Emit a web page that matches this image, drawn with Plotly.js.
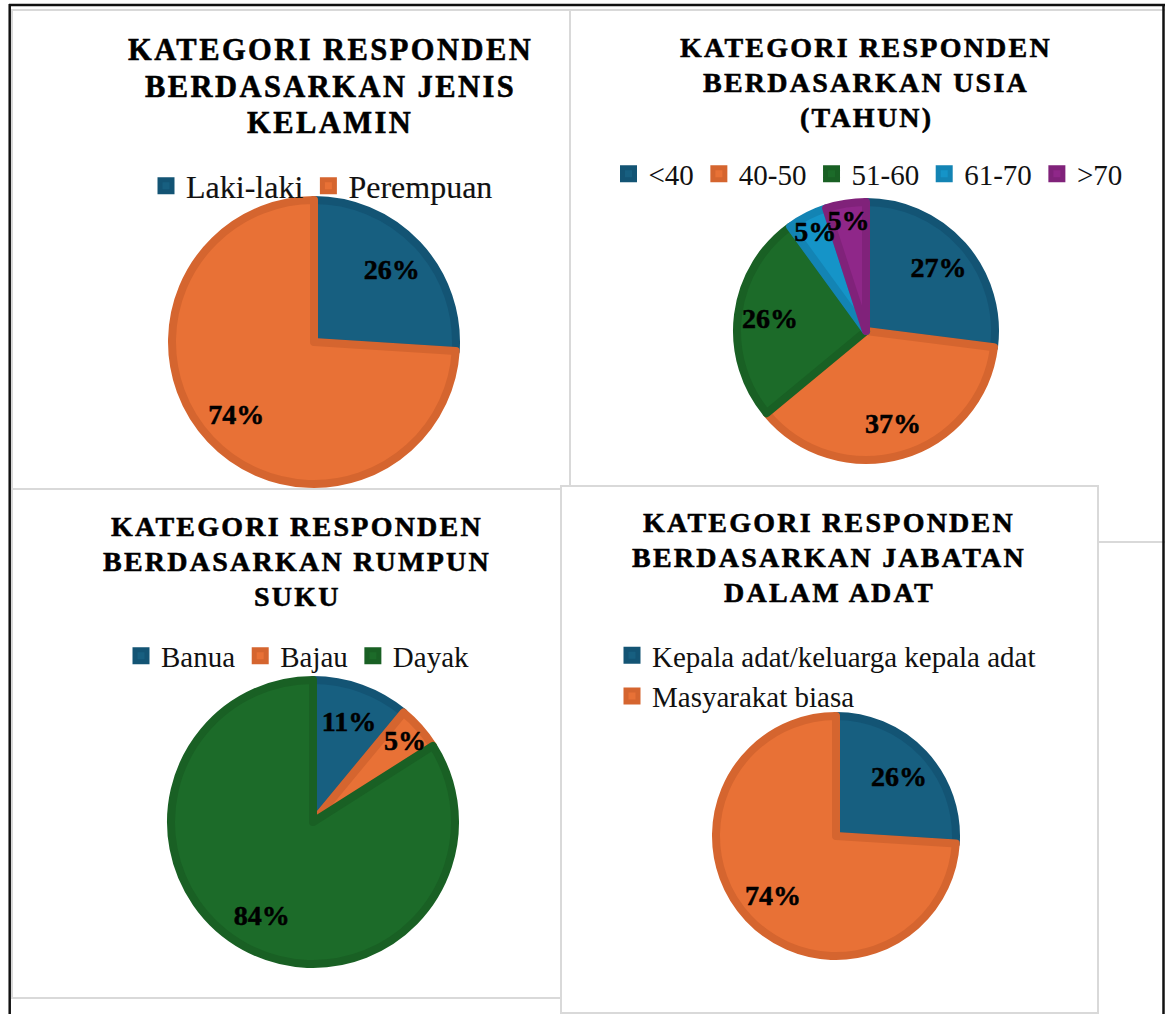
<!DOCTYPE html>
<html>
<head>
<meta charset="utf-8">
<script src="https://cdn.plot.ly/plotly-3.0.1.min.js"></script>
<style>
html, body { margin: 0; padding: 0; background: #ffffff; }
#chart { width: 1165px; height: 1014px; }
.annotation-text { letter-spacing: 0.08em; stroke: #000000; stroke-width: 0.55px; }
.slicetext { stroke: #000000; stroke-width: 0.5px; }
.legendtext { stroke: #111111; stroke-width: 0.15px; }
.slice path.surface { stroke-linejoin: round; }
</style>
</head>
<body>
<div id="chart"></div>
<script>
// ---------------- data ----------------
const genderLabels = ['Laki-laki', 'Perempuan'];
const genderValues = [26, 74];

const ageLabels = ['<40', '40-50', '51-60', '61-70', '>70'];
const ageValues = [27, 37, 26, 5, 5];

const tribeLabels = ['Banua', 'Bajau', 'Dayak'];
const tribeValues = [11, 5, 84];

const roleLabels = ['Kepala adat/keluarga kepala adat', 'Masyarakat biasa'];
const roleValues = [26, 74];

const genderTitle = ['KATEGORI RESPONDEN', 'BERDASARKAN JENIS', 'KELAMIN'];
const ageTitle = ['KATEGORI RESPONDEN', 'BERDASARKAN USIA', '(TAHUN)'];
const tribeTitle = ['KATEGORI RESPONDEN', 'BERDASARKAN RUMPUN', 'SUKU'];
const roleTitle = ['KATEGORI RESPONDEN', 'BERDASARKAN JABATAN', 'DALAM ADAT'];

// ---------------- styles ----------------
const BLUE = '#175f80', BLUE_D = '#135474';
const ORANGE = '#e87136', ORANGE_D = '#d5652f';
const GREEN = '#1c6b29', GREEN_D = '#196024';
const LBLUE = '#1594c8', LBLUE_D = '#1384b4';
const PURPLE = '#8f2789', PURPLE_D = '#80227a';

const W = 1165, H = 1014;
const LW = 8;
const SERIF = 'Liberation Serif, Times New Roman, serif';

function dom(cx, cy, r) {
  const R = r - LW / 2;
  return { x: [(cx - R) / W, (cx + R) / W], y: [1 - (cy + R) / H, 1 - (cy - R) / H] };
}

function pieTraces(labels, values, fills, lines, domain, legendId, textHole) {
  const clear = labels.map(() => 'rgba(0,0,0,0)');
  return [
    {
      type: 'pie', labels: labels, values: values, sort: false,
      direction: 'clockwise', rotation: 0, domain: domain,
      marker: { colors: fills, line: { color: lines, width: LW } },
      textinfo: 'none', hoverinfo: 'skip', legend: legendId, showlegend: true
    },
    {
      type: 'pie', labels: labels, values: values, sort: false,
      direction: 'clockwise', rotation: 0, domain: domain, hole: textHole,
      marker: { colors: clear, line: { width: 0 } },
      texttemplate: '%{value}%', textposition: 'inside',
      insidetextorientation: 'horizontal',
      textfont: { family: SERIF, size: 28, weight: 700, color: '#000000' },
      hoverinfo: 'skip', showlegend: false, legend: legendId
    }
  ];
}

const data = [].concat(
  pieTraces(genderLabels, genderValues, [BLUE, ORANGE], [BLUE_D, ORANGE_D], dom(314, 342, 146), 'legend', 0.5),
  pieTraces(ageLabels, ageValues, [BLUE, ORANGE, GREEN, LBLUE, PURPLE],
            [BLUE_D, ORANGE_D, GREEN_D, LBLUE_D, PURPLE_D], dom(866, 331, 133), 'legend2', 0.5),
  pieTraces(tribeLabels, tribeValues, [BLUE, ORANGE, GREEN], [BLUE_D, ORANGE_D, GREEN_D], dom(313, 822, 146), 'legend3', 0.5),
  pieTraces(roleLabels, roleValues, [BLUE, ORANGE], [BLUE_D, ORANGE_D], dom(836, 836, 124), 'legend4', 0.44)
);

function titleAnn(lines, cx, ys, size) {
  return lines.map((t, i) => ({
    text: t, xref: 'paper', yref: 'paper', x: cx / W, y: 1 - ys[i] / H,
    xanchor: 'center', yanchor: 'middle', showarrow: false,
    font: { family: SERIF, size: size, weight: 700, color: '#000000' }
  }));
}

const annotations = [].concat(
  titleAnn(genderTitle, 330, [50, 86.5, 123], 30.5),
  titleAnn(ageTitle, 866, [47.5, 82.5, 117], 28),
  titleAnn(tribeTitle, 297, [526.5, 561, 596], 28),
  titleAnn(roleTitle, 829, [522.5, 557.5, 592], 28)
);

function rect(x0, y0, x1, y1) {
  return { type: 'rect', xref: 'paper', yref: 'paper', layer: 'below',
    x0: x0 / W, x1: x1 / W, y0: 1 - y0 / H, y1: 1 - y1 / H,
    line: { color: '#d9d9d9', width: 2 }, fillcolor: '#ffffff' };
}
function blackLine(x0, y0, x1, y1) {
  return { type: 'line', xref: 'paper', yref: 'paper', layer: 'below',
    x0: x0 / W, x1: x1 / W, y0: 1 - y0 / H, y1: 1 - y1 / H,
    line: { color: '#111111', width: 2.5 } };
}

const shapes = [
  rect(570, 10, 1175, 542),
  rect(12, 10, 570, 489),
  rect(12, 489, 561, 998),
  rect(561, 486, 1098, 1013),
  blackLine(9, 5, 1165, 5),
  blackLine(9.7, 4, 9.7, 1014),
  blackLine(1163.5, 4, 1163.5, 1014)
];

function legendBox(x, xanchor, y, size, orientation) {
  return {
    orientation: orientation, x: x / W, xanchor: xanchor, y: 1 - y / H, yanchor: 'middle',
    font: { family: SERIF, size: size, color: '#111111' },
    bgcolor: 'rgba(0,0,0,0)', borderwidth: 0
  };
}

const layout = {
  width: W, height: H,
  margin: { l: 0, r: 0, t: 0, b: 0 },
  paper_bgcolor: '#ffffff',
  showlegend: true,
  uniformtext: { mode: 'show', minsize: 28 },
  legend: legendBox(322, 'center', 186, 32, 'h'),
  legend2: legendBox(868, 'center', 174, 29, 'h'),
  legend3: legendBox(298, 'center', 656, 29, 'h'),
  legend4: legendBox(612, 'left', 676, 29, 'v'),
  annotations: annotations,
  shapes: shapes
};

Plotly.newPlot('chart', data, layout, { displayModeBar: false, staticPlot: true });
</script>
</body>
</html>
